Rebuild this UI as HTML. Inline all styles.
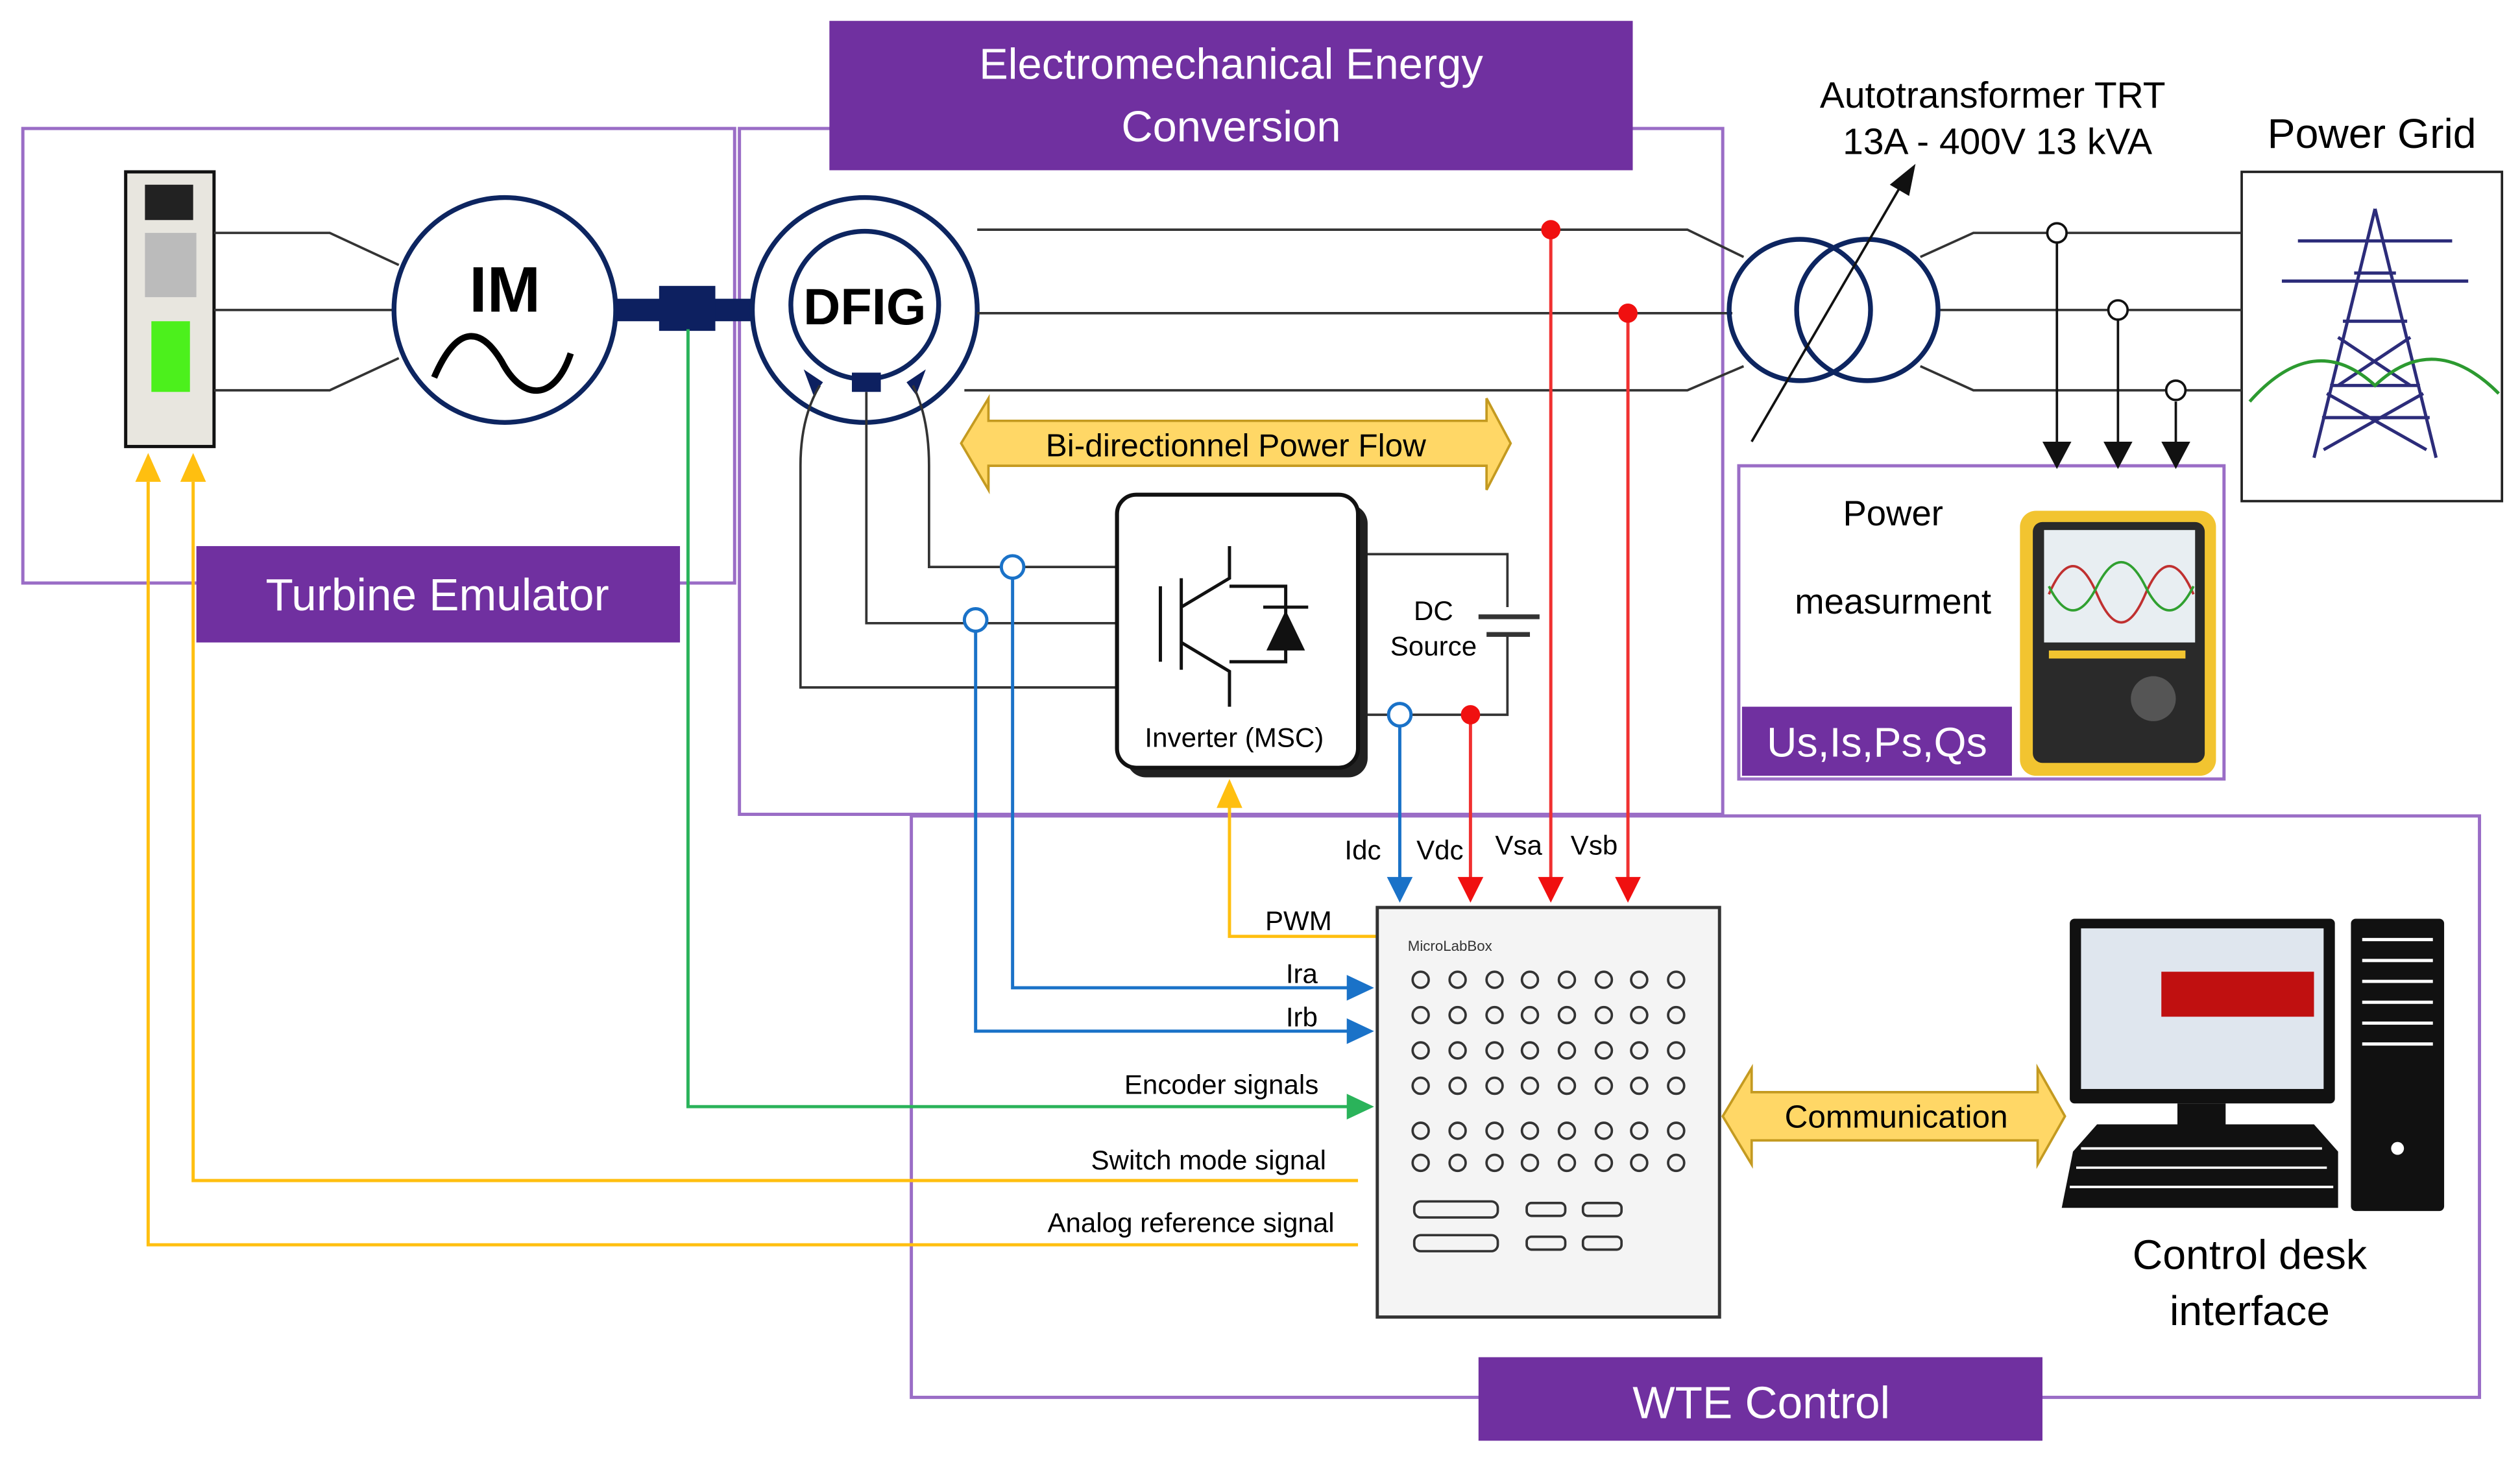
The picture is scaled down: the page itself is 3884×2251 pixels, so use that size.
<!DOCTYPE html>
<html><head><meta charset="utf-8"><style>
html,body{margin:0;padding:0;background:#fff;}
svg{display:block;}
text{font-family:"Liberation Sans",sans-serif;}
</style></head><body>
<svg width="3884" height="2251" viewBox="0 0 1568 909" xmlns="http://www.w3.org/2000/svg">
<defs>
<marker id="ay" markerWidth="10" markerHeight="10" refX="5" refY="9" orient="auto-start-reverse" markerUnits="userSpaceOnUse"><path d="M0,0 L10,0 L5,0 Z"/></marker>
</defs>
<rect width="1568" height="909" fill="#fff"/>
<!-- purple boxes -->
<rect x="14" y="80" width="443" height="283" fill="none" stroke="#9a6dc6" stroke-width="2"/>
<rect x="460" y="80" width="612" height="427" fill="none" stroke="#9a6dc6" stroke-width="2"/>
<rect x="567" y="508" width="976" height="362" fill="none" stroke="#9a6dc6" stroke-width="2"/>
<rect x="1082" y="290" width="302" height="195" fill="none" stroke="#9a6dc6" stroke-width="2"/>
<rect x="1395" y="107" width="162" height="205" fill="#fff" stroke="#222" stroke-width="1.5"/>
<rect x="516" y="13" width="500" height="93" fill="#7030a0"/>
<text x="766" y="49" font-size="27" fill="#fff" text-anchor="middle">Electromechanical Energy</text>
<text x="766" y="88" font-size="27" fill="#fff" text-anchor="middle">Conversion</text>
<rect x="122" y="340" width="301" height="60" fill="#7030a0"/>
<text x="272" y="380" font-size="28" fill="#fff" text-anchor="middle">Turbine Emulator</text>
<rect x="920" y="845" width="351" height="52" fill="#7030a0"/>
<text x="1096" y="883" font-size="28" fill="#fff" text-anchor="middle">WTE Control</text>
<rect x="1084" y="440" width="168" height="43" fill="#7030a0"/>
<text x="1168" y="471" font-size="26" fill="#fff" text-anchor="middle">Us,Is,Ps,Qs</text>
<text x="1476" y="92" font-size="26" text-anchor="middle">Power Grid</text>
<text x="1240" y="67" font-size="23" text-anchor="middle">Autotransformer TRT</text>
<text x="1243" y="96" font-size="23" text-anchor="middle">13A - 400V 13 kVA</text>
<text x="1178" y="327" font-size="22" text-anchor="middle">Power</text>
<text x="1178" y="382" font-size="22" text-anchor="middle">measurment</text>
<!-- drive -->
<rect x="78" y="107" width="55" height="171" fill="#e8e6df" stroke="#111" stroke-width="2"/>
<rect x="90" y="115" width="30" height="22" fill="#222"/>
<rect x="94" y="200" width="24" height="44" fill="#4cf01c"/>
<rect x="90" y="145" width="32" height="40" fill="#bbb"/>
<!-- drive to IM lines -->
<g stroke="#333" stroke-width="1.5" fill="none">
<path d="M133,145 H205 L248,165"/><path d="M133,193 H245"/><path d="M133,243 H205 L248,223"/>
</g>
<!-- IM -->
<ellipse cx="314" cy="193" rx="69" ry="70" fill="#fff" stroke="#0d2560" stroke-width="3"/>
<text x="314" y="194" font-size="40" font-weight="bold" text-anchor="middle">IM</text>
<path d="M270,235 C285,200 300,205 312,225 C325,250 345,250 355,220" fill="none" stroke="#000" stroke-width="4"/>
<!-- shaft -->
<rect x="383" y="186" width="110" height="14" fill="#0d2060"/>
<rect x="410" y="178" width="35" height="28" fill="#0d2060"/>
<!-- green encoder -->
<path d="M428,205 V689 H845" fill="none" stroke="#2ab35a" stroke-width="2"/>
<path d="M838,681 L855,689 L838,697 Z" fill="#2ab35a"/>
<!-- DFIG -->
<circle cx="538" cy="193" r="70" fill="#fff" stroke="#0d2560" stroke-width="3"/>
<circle cx="538" cy="190" r="46" fill="#fff" stroke="#0d2560" stroke-width="3"/>
<text x="538" y="202" font-size="32" font-weight="bold" text-anchor="middle">DFIG</text>
<rect x="530" y="232" width="18" height="12" fill="#0d2060"/>
<path d="M500,230 L512,238 L506,246 Z M576,230 L564,238 L570,246 Z" fill="#0d2060"/>
<!-- DFIG rotor wiring -->
<g stroke="#333" stroke-width="1.5" fill="none">
<path d="M510,240 Q498,260 498,290 V428 H695"/>
<path d="M539,244 V388 H695"/>
<path d="M568,240 Q578,260 578,290 V353 H695"/>
<path d="M608,143 H1050 L1085,160"/>
<path d="M608,195 H1078"/>
<path d="M600,243 H1050 L1085,228"/>
<path d="M1195,160 L1228,145 H1395"/>
<path d="M1205,193 H1395"/>
<path d="M1195,228 L1228,243 H1395"/>
<path d="M845,345 H938 V378 M938,395 V445 H845"/>
<path d="M920,384 H958 M925,395 H952" stroke-width="3"/>
</g>
<!-- transformer -->
<circle cx="1120" cy="193" r="44" fill="none" stroke="#0d2560" stroke-width="3"/>
<circle cx="1162" cy="193" r="44" fill="none" stroke="#0d2560" stroke-width="3"/>
<line x1="1090" y1="275" x2="1185" y2="112" stroke="#111" stroke-width="1.5"/>
<path d="M1192,102 L1188,122 L1176,115 Z" fill="#111"/>
<!-- taps -->
<g stroke="#111" stroke-width="1.5" fill="#fff">
<line x1="1280" y1="150" x2="1280" y2="280"/><line x1="1318" y1="199" x2="1318" y2="280"/><line x1="1354" y1="250" x2="1354" y2="280"/>
<circle cx="1280" cy="145" r="6"/><circle cx="1318" cy="193" r="6"/><circle cx="1354" cy="243" r="6"/>
</g>
<path d="M1271,275 L1289,275 L1280,292 Z M1309,275 L1327,275 L1318,292 Z M1345,275 L1363,275 L1354,292 Z" fill="#111"/>
<!-- tower -->
<g stroke="#2c2c7a" stroke-width="2" fill="none">
<path d="M1478,130 L1440,285 M1478,130 L1516,285 M1450,240 H1506 M1458,200 H1498 M1445,260 L1512,260 M1465,170 H1491 M1430,150 H1526 M1420,175 H1536"/>
<path d="M1448,245 L1510,280 M1508,245 L1446,280 M1455,210 L1500,240 M1500,210 L1455,240"/>
</g>
<path d="M1400,250 Q1440,205 1478,240 Q1515,205 1555,245" fill="none" stroke="#2c9a30" stroke-width="2"/>
<!-- bidirectional arrow -->
<path d="M598,276 L615,248 V262 H925 V248 L940,276 L925,305 V290 H615 V305 Z" fill="#ffd766" stroke="#c49a20" stroke-width="1.5"/>
<text x="769" y="284" font-size="20" text-anchor="middle">Bi-directionnel Power Flow</text>
<!-- inverter -->
<rect x="701" y="314" width="150" height="170" rx="12" fill="#222"/>
<rect x="695" y="308" width="150" height="170" rx="12" fill="#fff" stroke="#111" stroke-width="2.5"/>
<g stroke="#111" stroke-width="2" fill="none">
<path d="M722,365 V412 M735,360 V417 M735,378 L765,360 V340 M735,400 L765,418 V440 M765,365 H800 V412 H765"/>
</g>
<path d="M788,405 L812,405 L800,380 Z" fill="#111"/><line x1="786" y1="378" x2="814" y2="378" stroke="#111" stroke-width="2"/>
<text x="768" y="465" font-size="17" text-anchor="middle">Inverter (MSC)</text>
<text x="892" y="386" font-size="17" text-anchor="middle">DC</text>
<text x="892" y="408" font-size="17" text-anchor="middle">Source</text>
<!-- blue signals -->
<g stroke="#1a72c8" stroke-width="2" fill="none">
<path d="M630,359 V615 H845"/><path d="M607,392 V642 H845"/><path d="M871,451 V548"/>
</g>
<g fill="#fff" stroke="#1a72c8" stroke-width="2">
<circle cx="630" cy="353" r="7"/><circle cx="607" cy="386" r="7"/><circle cx="871" cy="445" r="7"/>
</g>
<path d="M838,607 L855,615 L838,623 Z M838,634 L855,642 L838,650 Z M863,546 L879,546 L871,562 Z" fill="#1a72c8"/>
<!-- red signals -->
<g stroke="#f03030" stroke-width="2" fill="none">
<path d="M915,445 V548"/><path d="M965,143 V548"/><path d="M1013,195 V548"/>
</g>
<g fill="#f01010"><circle cx="915" cy="445" r="6"/><circle cx="965" cy="143" r="6"/><circle cx="1013" cy="195" r="6"/>
<path d="M907,546 L923,546 L915,562 Z M957,546 L973,546 L965,562 Z M1005,546 L1021,546 L1013,562 Z"/></g>
<text x="848" y="535" font-size="17" text-anchor="middle">Idc</text>
<text x="896" y="535" font-size="17" text-anchor="middle">Vdc</text>
<text x="945" y="532" font-size="17" text-anchor="middle">Vsa</text>
<text x="992" y="532" font-size="17" text-anchor="middle">Vsb</text>
<!-- yellow signals -->
<g stroke="#ffbf10" stroke-width="2" fill="none">
<path d="M857,583 H765 V500"/><path d="M845,735 H120 V300"/><path d="M845,775 H92 V300"/>
</g>
<path d="M757,503 L765,485 L773,503 Z M84,300 L92,282 L100,300 Z M112,300 L120,282 L128,300 Z" fill="#ffbf10"/>
<text x="808" y="579" font-size="17" text-anchor="middle">PWM</text>
<text x="810" y="612" font-size="17" text-anchor="middle">Ira</text>
<text x="810" y="639" font-size="17" text-anchor="middle">Irb</text>
<text x="760" y="681" font-size="17" text-anchor="middle">Encoder signals</text>
<text x="752" y="728" font-size="17" text-anchor="middle">Switch mode signal</text>
<text x="741" y="767" font-size="17" text-anchor="middle">Analog reference signal</text>
<!-- microlabbox -->
<rect x="857" y="565" width="213" height="255" fill="#f4f4f4" stroke="#333" stroke-width="2"/>
<text x="876" y="592" font-size="9" fill="#333">MicroLabBox</text>
<g fill="none" stroke="#333" stroke-width="1.5">
<g id="row"><circle cx="884" cy="610" r="5"/><circle cx="907" cy="610" r="5"/><circle cx="930" cy="610" r="5"/><circle cx="952" cy="610" r="5"/><circle cx="975" cy="610" r="5"/><circle cx="998" cy="610" r="5"/><circle cx="1020" cy="610" r="5"/><circle cx="1043" cy="610" r="5"/></g>
<use href="#row" y="22"/><use href="#row" y="44"/><use href="#row" y="66"/><use href="#row" y="94"/><use href="#row" y="114"/>
<rect x="880" y="748" width="52" height="10" rx="4"/><rect x="880" y="769" width="52" height="10" rx="4"/>
<rect x="950" y="749" width="24" height="8" rx="3"/><rect x="985" y="749" width="24" height="8" rx="3"/>
<rect x="950" y="770" width="24" height="8" rx="3"/><rect x="985" y="770" width="24" height="8" rx="3"/>
</g>
<!-- communication arrow -->
<path d="M1072,695 L1090,665 V680 H1268 V665 L1285,695 L1268,725 V710 H1090 V725 Z" fill="#ffd766" stroke="#c49a20" stroke-width="1.5"/>
<text x="1180" y="702" font-size="20" text-anchor="middle">Communication</text>
<!-- computer -->
<rect x="1288" y="572" width="165" height="115" fill="#111" rx="3"/>
<rect x="1295" y="578" width="151" height="100" fill="#dfe6ee"/>
<rect x="1345" y="605" width="95" height="28" fill="#c01010"/>
<rect x="1355" y="687" width="30" height="15" fill="#111"/>
<path d="M1290,717 L1305,700 H1440 L1455,717 V752 H1283 Z" fill="#111"/>
<g stroke="#fff" stroke-width="1.5"><path d="M1295,715 H1445 M1292,727 H1448 M1288,739 H1452"/></g>
<rect x="1463" y="572" width="58" height="182" fill="#111" rx="3"/>
<g stroke="#fff" stroke-width="2"><path d="M1470,585 H1514 M1470,598 H1514 M1470,611 H1514 M1470,624 H1514 M1470,637 H1514 M1470,650 H1514"/></g>
<circle cx="1492" cy="715" r="4" fill="#fff"/>
<text x="1400" y="790" font-size="26" text-anchor="middle">Control desk</text>
<text x="1400" y="825" font-size="26" text-anchor="middle">interface</text>
<!-- power analyzer -->
<rect x="1257" y="318" width="122" height="165" rx="10" fill="#f2c430"/>
<rect x="1265" y="325" width="107" height="150" rx="6" fill="#2a2a2a"/>
<rect x="1272" y="330" width="94" height="70" fill="#e8eef2"/>
<path d="M1275,370 Q1290,335 1305,370 T1335,370 T1365,370" fill="none" stroke="#c03030" stroke-width="1.5"/>
<path d="M1275,365 Q1290,395 1305,365 T1335,365 T1365,365" fill="none" stroke="#30a030" stroke-width="1.5"/>
<g fill="#f2c430"><rect x="1275" y="405" width="85" height="5"/></g>
<circle cx="1340" cy="435" r="14" fill="#555"/>
</svg>
</body></html>
